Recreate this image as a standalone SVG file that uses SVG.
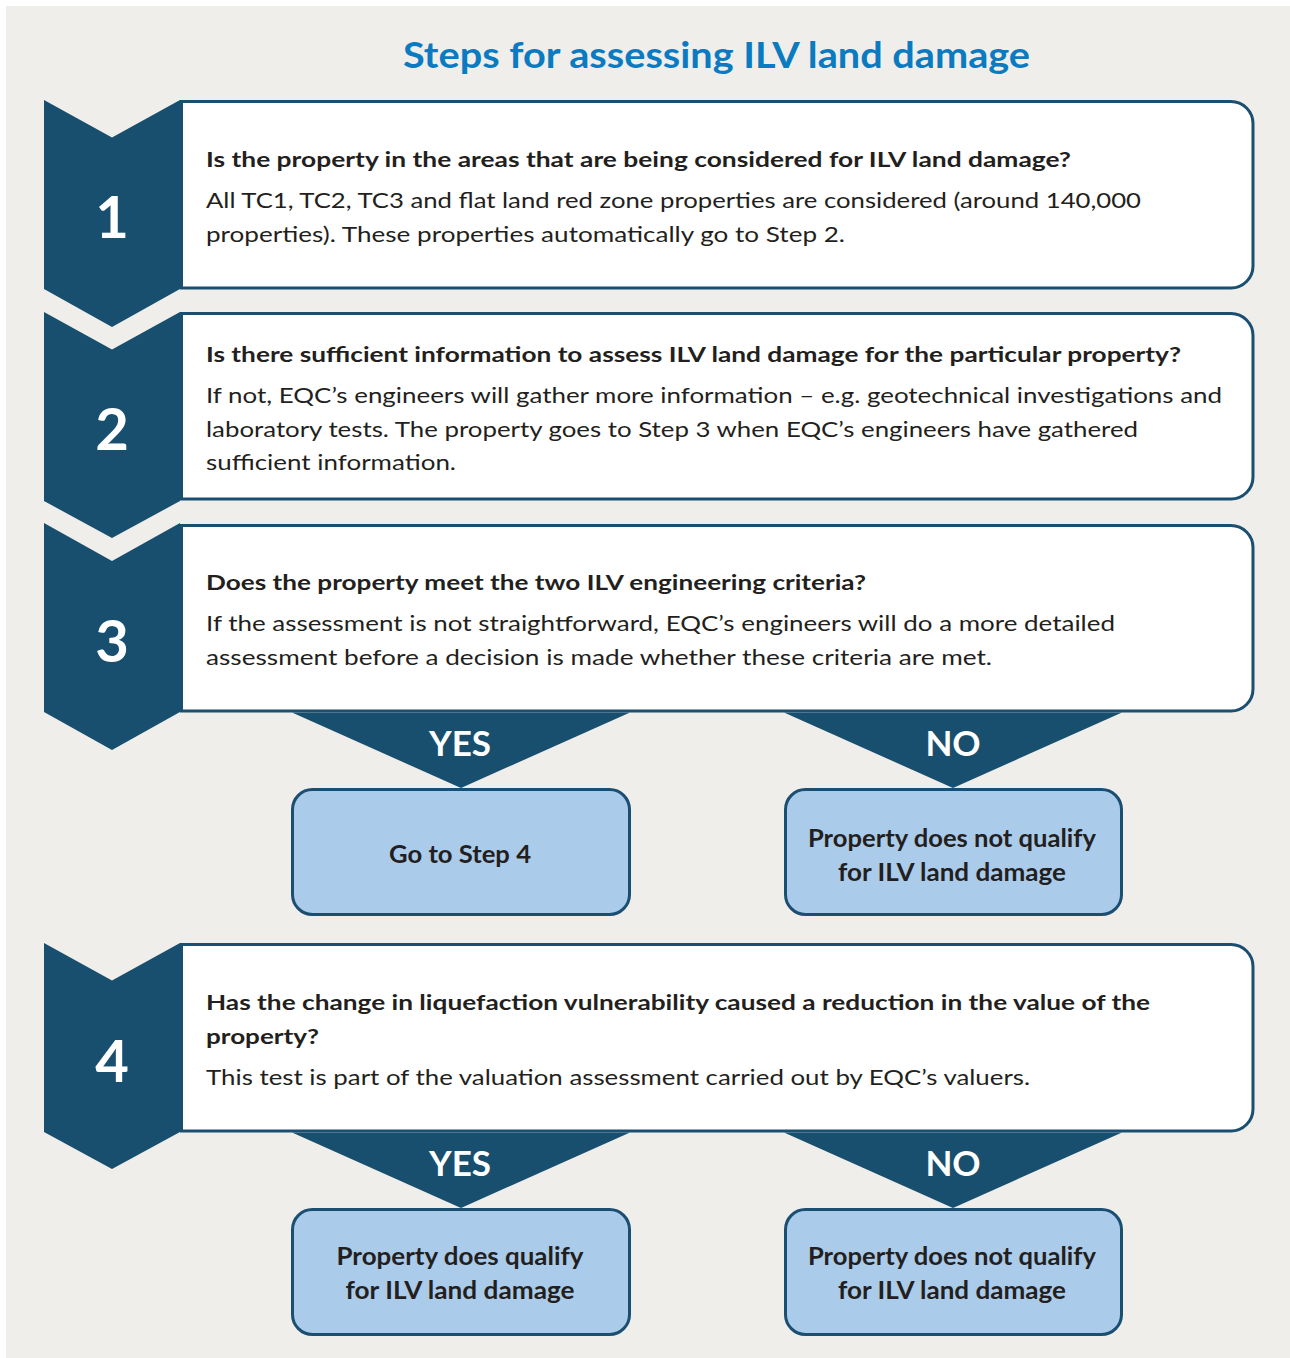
<svg xmlns="http://www.w3.org/2000/svg" width="1290" height="1358" viewBox="0 0 1290 1358">
  <defs>
    <style>
      .bg { fill: #f0eeea; }
      .chev { fill: #184e6e; }
      .card { fill: #ffffff; stroke: #1b4f72; stroke-width: 3; }
      .out { fill: #abcbea; stroke: #1b4f72; stroke-width: 3; }
      .tri { fill: #184e6e; }
      .title { font-family: Lato, "Open Sans", sans-serif; font-weight: 700; font-size: 37px; fill: #0b7bc1; }
      .num { font-family: Lato, "Open Sans", sans-serif; font-weight: 700; font-size: 58px; fill: #ffffff; text-anchor: middle; }
      .q { font-family: Lato, "Open Sans", sans-serif; font-weight: 700; font-size: 21px; fill: #231f20; }
      .b { font-family: Lato, "Open Sans", sans-serif; font-weight: 400; font-size: 21.5px; fill: #231f20; }
      .yn { font-family: Lato, "Open Sans", sans-serif; font-weight: 700; font-size: 35px; fill: #ffffff; text-anchor: middle; }
      .lbl { font-family: Lato, "Open Sans", sans-serif; font-weight: 700; font-size: 24.5px; fill: #231f20; text-anchor: middle; }
    </style>
  </defs>

  <rect class="bg" x="6" y="6" width="1284" height="1352"/>

  <text class="title" x="403" y="68" textLength="627" lengthAdjust="spacingAndGlyphs">Steps for assessing ILV land damage</text>

  <!-- Step 1 -->
  <g id="step1">
    <path class="card" d="M181.5,101.5 H1231 a22,22 0 0 1 22,22 V266 a22,22 0 0 1 -22,22 H181.5 Z"/>
    <path class="chev" d="M44,100 L112,137.5 L180,100 L180,289 L112,327 L44,289 Z"/>
    <text class="num" x="112" y="238">1</text>
    <text class="q" x="206" y="167" textLength="865" lengthAdjust="spacingAndGlyphs">Is the property in the areas that are being considered for ILV land damage?</text>
    <text class="b" x="206" y="208" textLength="935" lengthAdjust="spacingAndGlyphs">All TC1, TC2, TC3 and flat land red zone properties are considered (around 140,000</text>
    <text class="b" x="206" y="242" textLength="639" lengthAdjust="spacingAndGlyphs">properties). These properties automatically go to Step 2.</text>
  </g>

  <!-- Step 2 -->
  <g id="step2">
    <path class="card" d="M181.5,313.5 H1231 a22,22 0 0 1 22,22 V477 a22,22 0 0 1 -22,22 H181.5 Z"/>
    <path class="chev" d="M44,312 L112,349.5 L180,312 L180,501 L112,538 L44,501 Z"/>
    <text class="num" x="112" y="450">2</text>
    <text class="q" x="206" y="362" textLength="975" lengthAdjust="spacingAndGlyphs">Is there sufficient information to assess ILV land damage for the particular property?</text>
    <text class="b" x="206" y="403" textLength="1016" lengthAdjust="spacingAndGlyphs">If not, EQC’s engineers will gather more information – e.g. geotechnical investigations and</text>
    <text class="b" x="206" y="437" textLength="932" lengthAdjust="spacingAndGlyphs">laboratory tests. The property goes to Step 3 when EQC’s engineers have gathered</text>
    <text class="b" x="206" y="470" textLength="250" lengthAdjust="spacingAndGlyphs">sufficient information.</text>
  </g>

  <!-- Step 3 -->
  <g id="step3">
    <path class="card" d="M181.5,525.5 H1231 a22,22 0 0 1 22,22 V689 a22,22 0 0 1 -22,22 H181.5 Z"/>
    <path class="chev" d="M44,523 L112,561 L180,523 L180,712 L112,750 L44,712 Z"/>
    <text class="num" x="112" y="662">3</text>
    <text class="q" x="206" y="590" textLength="660" lengthAdjust="spacingAndGlyphs">Does the property meet the two ILV engineering criteria?</text>
    <text class="b" x="206" y="631" textLength="909" lengthAdjust="spacingAndGlyphs">If the assessment is not straightforward, EQC’s engineers will do a more detailed</text>
    <text class="b" x="206" y="665" textLength="786" lengthAdjust="spacingAndGlyphs">assessment before a decision is made whether these criteria are met.</text>
  </g>

  <!-- Step 4 -->
  <g id="step4">
    <path class="card" d="M181.5,944.5 H1231 a22,22 0 0 1 22,22 V1109 a22,22 0 0 1 -22,22 H181.5 Z"/>
    <path class="chev" d="M44,943 L112,980.5 L180,943 L180,1132 L112,1169 L44,1132 Z"/>
    <text class="num" x="112" y="1082">4</text>
    <text class="q" x="206" y="1010" textLength="944" lengthAdjust="spacingAndGlyphs">Has the change in liquefaction vulnerability caused a reduction in the value of the</text>
    <text class="q" x="206" y="1044" textLength="113" lengthAdjust="spacingAndGlyphs">property?</text>
    <text class="b" x="206" y="1085" textLength="824" lengthAdjust="spacingAndGlyphs">This test is part of the valuation assessment carried out by EQC’s valuers.</text>
  </g>

  <!-- Decision arrows -->
  <g id="connectors">
    <path class="tri" d="M292,712.5 L630,712.5 L461,788 Z"/>
    <text class="yn" x="460" y="756">YES</text>
    <path class="tri" d="M784,712.5 L1122,712.5 L953,788 Z"/>
    <text class="yn" x="953" y="756">NO</text>
    <path class="tri" d="M292,1132.5 L630,1132.5 L461,1208 Z"/>
    <text class="yn" x="460" y="1176">YES</text>
    <path class="tri" d="M784,1132.5 L1122,1132.5 L953,1208 Z"/>
    <text class="yn" x="953" y="1176">NO</text>
  </g>

  <!-- Outcomes of step 3 -->
  <g id="goto4">
    <rect class="out" x="292.5" y="789.5" width="337" height="125" rx="20"/>
    <text class="lbl" x="460" y="863" textLength="142" lengthAdjust="spacingAndGlyphs">Go to Step 4</text>
  </g>
  <g id="noqualify3">
    <rect class="out" x="785.5" y="789.5" width="336" height="125" rx="20"/>
    <text class="lbl" x="952" y="847" textLength="288" lengthAdjust="spacingAndGlyphs">Property does not qualify</text>
    <text class="lbl" x="952" y="881" textLength="228" lengthAdjust="spacingAndGlyphs">for ILV land damage</text>
  </g>

  <!-- Outcomes of step 4 -->
  <g id="qualify4">
    <rect class="out" x="292.5" y="1209.5" width="337" height="125" rx="20"/>
    <text class="lbl" x="460" y="1265" textLength="247" lengthAdjust="spacingAndGlyphs">Property does qualify</text>
    <text class="lbl" x="460" y="1299" textLength="229" lengthAdjust="spacingAndGlyphs">for ILV land damage</text>
  </g>
  <g id="noqualify4">
    <rect class="out" x="785.5" y="1209.5" width="336" height="125" rx="20"/>
    <text class="lbl" x="952" y="1265" textLength="288" lengthAdjust="spacingAndGlyphs">Property does not qualify</text>
    <text class="lbl" x="952" y="1299" textLength="228" lengthAdjust="spacingAndGlyphs">for ILV land damage</text>
  </g>
</svg>
